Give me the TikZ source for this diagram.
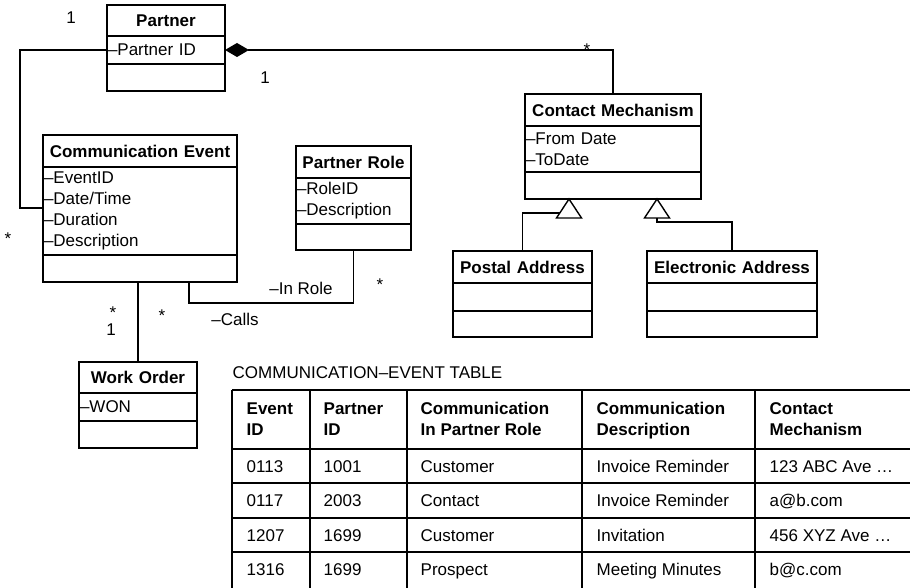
\documentclass[tikz,border=0pt]{standalone}
\usepackage{fontspec}
\setmainfont{Liberation Sans}
\usetikzlibrary{arrows.meta,positioning}
\newcommand{\umlsize}{\fontsize{17}{21}\selectfont}

\begin{document}
\begin{tikzpicture}[
    x=1pt, y=-1pt,
    font=\umlsize,
    line width=1.4pt,
    classpart/.style = {draw, inner xsep=1pt, inner ysep=0pt, outer sep=0pt, text width=#1},
    classhead/.style = {classpart=#1, align=center, anchor=north, font=\umlsize\bfseries},
    classattr/.style = {classpart=#1, align=left},
    mult/.style = {inner sep=0pt},
    gen/.style = {draw, fill=white},
    cell/.style = {anchor=base west, inner sep=0pt},
    headcell/.style = {anchor=west, align=left, inner sep=0pt, text depth=0pt, font=\umlsize\bfseries},
    grid/.style = {line width=1.1pt}
]
\useasboundingbox (0,0) rectangle (910,588);

% Classes
\node[classhead=116pt, minimum height=31pt] (partner) at (166,5) {Partner};
\node[classattr=116pt, minimum height=28pt, below=0pt of partner] (partner-a) {–Partner ID};
\node[classattr=116pt, minimum height=27pt, below=0pt of partner-a] (partner-o) {};

\node[classhead=174pt, minimum height=32pt] (cm) at (613,94) {Contact Mechanism};
\node[classattr=174pt, minimum height=46pt, below=0pt of cm] (cm-a) {–From Date\\–ToDate};
\node[classattr=174pt, minimum height=27pt, below=0pt of cm-a] (cm-o) {};

\node[classhead=192pt, minimum height=32pt] (ce) at (140,135) {Communication Event};
\node[classattr=192pt, minimum height=88pt, below=0pt of ce] (ce-a) {–EventID\\–Date/Time\\–Duration\\–Description};
\node[classattr=192pt, minimum height=27pt, below=0pt of ce-a] (ce-o) {};

\node[classhead=113pt, minimum height=32pt] (pr) at (353.5,146) {Partner Role};
\node[classattr=113pt, minimum height=46pt, below=0pt of pr] (pr-a) {–RoleID\\–Description};
\node[classattr=113pt, minimum height=26pt, below=0pt of pr-a] (pr-o) {};

\node[classhead=137pt, minimum height=32pt] (postal) at (522.5,251) {Postal Address};
\node[classattr=137pt, minimum height=28pt, below=0pt of postal] (postal-a) {};
\node[classattr=137pt, minimum height=26pt, below=0pt of postal-a] (postal-o) {};

\node[classhead=168pt, minimum height=32pt] (elec) at (732,251) {Electronic Address};
\node[classattr=168pt, minimum height=28pt, below=0pt of elec] (elec-a) {};
\node[classattr=168pt, minimum height=26pt, below=0pt of elec-a] (elec-o) {};

\node[classhead=116pt, minimum height=31pt] (wo) at (138,362) {Work Order};
\node[classattr=116pt, minimum height=28pt, below=0pt of wo] (wo-a) {–WON};
\node[classattr=116pt, minimum height=27pt, below=0pt of wo-a] (wo-o) {};

% Associations
\coordinate (bend) at (20,208);
\draw (partner-a.west) -| (bend) -- (bend -| ce-a.west);
\draw[{Diamond[length=24pt,width=14pt]}-] (partner-a.east) -| (cm.north);
\draw ([xshift=49pt]ce-o.south) -- ++(0,21) -| (pr-o.south);
\draw (wo.north) -- (wo.north |- ce-o.south);

% Generalisation
\coordinate (gen1) at (569,199);
\coordinate (gen2) at (657,199);
\draw (postal.north) |- ([yshift=-14pt]gen1);
\draw (elec.north) |- ([yshift=-23pt]gen2) -- ([yshift=-19pt]gen2);
\draw[gen] (gen1) -- ++(-12.5,19) -- ++(25,0) -- cycle;
\draw[gen] (gen2) -- ++(-12.5,19) -- ++(25,0) -- cycle;

% Multiplicities and roles
\node[mult] (m1) at (71,18)  {1};
\node[mult] (m2) at (265,78) {1};
\node[mult] (m3) at (587,50) {*};
\node[mult] (m4) at (8,239)  {*};
\node[mult] (m5) at (380,285) {*};
\node[mult] (m6) at (162,316) {*};
\node[mult] (m7) at (113,313) {*};
\node[mult] (m8) at (111,330) {1};
\node[mult] (inrole) at (301,288) {–In Role};
\node[mult] (calls)  at (235,319) {–Calls};

% Table
\node[anchor=west, inner sep=0pt] (tbl) at (232,373) {COMMUNICATION–EVENT TABLE};
\foreach \y in {390,449,483,518,552}
    \draw[grid] (232,\y) -- (915,\y);
\foreach \x in {232,310,407,582,755}
    \draw[grid] (\x,390) -- (\x,592);

\node[headcell] (h1) at (246,419) {Event\\ID};
\node[headcell] (h2) at (323,419) {Partner\\ID};
\node[headcell] (h3) at (420,419) {Communication\\In Partner Role};
\node[headcell] (h4) at (596,419) {Communication\\Description};
\node[headcell] (h5) at (769,419) {Contact\\Mechanism};

\foreach \y/\a/\b/\c/\d/\e [count=\i] in {
    472/0113/1001/Customer/Invoice Reminder/123 ABC Ave …,
    506/0117/2003/Contact/Invoice Reminder/a@b.com,
    541/1207/1699/Customer/Invitation/456 XYZ Ave …,
    575/1316/1699/Prospect/Meeting Minutes/b@c.com} {
    \node[cell] (r\i-1) at (246,\y) {\a};
    \node[cell] (r\i-2) at (323,\y) {\b};
    \node[cell] (r\i-3) at (420,\y) {\c};
    \node[cell] (r\i-4) at (596,\y) {\d};
    \node[cell] (r\i-5) at (769,\y) {\e};
}

\end{tikzpicture}
\end{document}
